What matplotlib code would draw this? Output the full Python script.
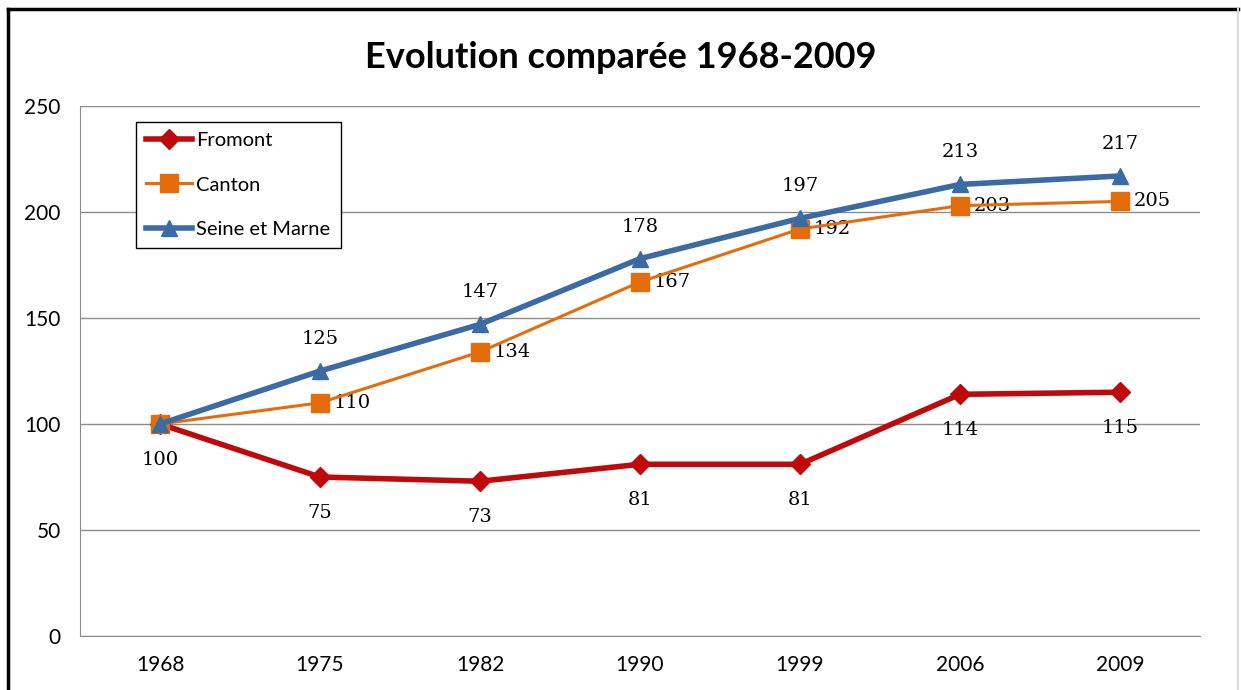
import matplotlib.pyplot as plt
from matplotlib.lines import Line2D

years = ["1968", "1975", "1982", "1990", "1999", "2006", "2009"]
fromont = [100, 75, 73, 81, 81, 114, 115]
canton = [100, 110, 134, 167, 192, 203, 205]
seine_et_marne = [100, 125, 147, 178, 197, 213, 217]

RED = "#BE0A0A"
ORANGE = "#E46C0A"
BLUE = "#3B6BA5"

tick_font = ["Liberation Sans Narrow", "Lato", "DejaVu Sans"]
label_font = "DejaVu Serif"

fig = plt.figure(figsize=(12.41, 6.90), dpi=100)
ax = fig.add_axes([80 / 1241, 1 - 636 / 690, 1120 / 1241, 530 / 690])

x = list(range(len(years)))

ax.plot(x, fromont, color=RED, lw=4, marker="D", ms=10, label="Fromont", zorder=3)
ax.plot(x, canton, color=ORANGE, lw=2.2, marker="s", ms=12.5, label="Canton", zorder=4)
ax.plot(x, seine_et_marne, color=BLUE, lw=4, marker="^", ms=11, label="Seine et Marne", zorder=5)

# data labels: Fromont below, Canton to the right, Seine et Marne above
for i, v in enumerate(fromont):
    ax.annotate(str(v), (i, v), xytext=(0, -26), textcoords="offset points",
                ha="center", va="center", fontsize=14, family=label_font)
for i, v in enumerate(canton):
    if i == 0:
        continue
    ax.annotate(str(v), (i, v), xytext=(10, 0), textcoords="offset points",
                ha="left", va="center", fontsize=14, family=label_font)
for i, v in enumerate(seine_et_marne):
    if i == 0:
        continue
    ax.annotate(str(v), (i, v), xytext=(0, 23), textcoords="offset points",
                ha="center", va="center", fontsize=14, family=label_font)

ax.set_xlim(-0.5, len(years) - 0.5)
ax.set_ylim(0, 250)
ax.set_yticks(range(0, 251, 50))
ax.set_xticks(x)
ax.set_xticklabels(years)
ax.yaxis.grid(True, color="#8C8C8C", lw=1)
ax.set_axisbelow(True)
ax.tick_params(length=0, labelsize=15, pad=14)
for lbl in ax.get_xticklabels() + ax.get_yticklabels():
    lbl.set_family(tick_font)

for side in ["top", "right"]:
    ax.spines[side].set_visible(False)
ax.spines["left"].set_color("#8C8C8C")
ax.spines["bottom"].set_color("#8C8C8C")

leg = ax.legend(loc="upper left", frameon=True, fancybox=False, edgecolor="black",
                framealpha=1, prop={"family": tick_font, "size": 14.5}, handlelength=2.3,
                handletextpad=0.2, labelspacing=1.35, borderpad=0.5)
leg.get_frame().set_linewidth(1)
leg.set_bbox_to_anchor((46 / 1120, 1 - 6 / 530), transform=ax.transAxes)

fig.text(0.5, 1 - 57 / 690, "Evolution comparée 1968-2009", ha="center", va="center",
         fontsize=26, fontweight="bold", family=tick_font)

# outer chart frame: dark top and left edges, faint right edge
fig.add_artist(Line2D([8 / 1241, 1238 / 1241], [1 - 9 / 690] * 2,
                      transform=fig.transFigure, color="black", lw=2.5))
fig.add_artist(Line2D([8 / 1241] * 2, [0, 1 - 9 / 690],
                      transform=fig.transFigure, color="black", lw=2.5))
fig.add_artist(Line2D([1238 / 1241] * 2, [0, 1 - 9 / 690],
                      transform=fig.transFigure, color="#D9D9D9", lw=1.5))

fig.savefig("out.png", dpi=100)
